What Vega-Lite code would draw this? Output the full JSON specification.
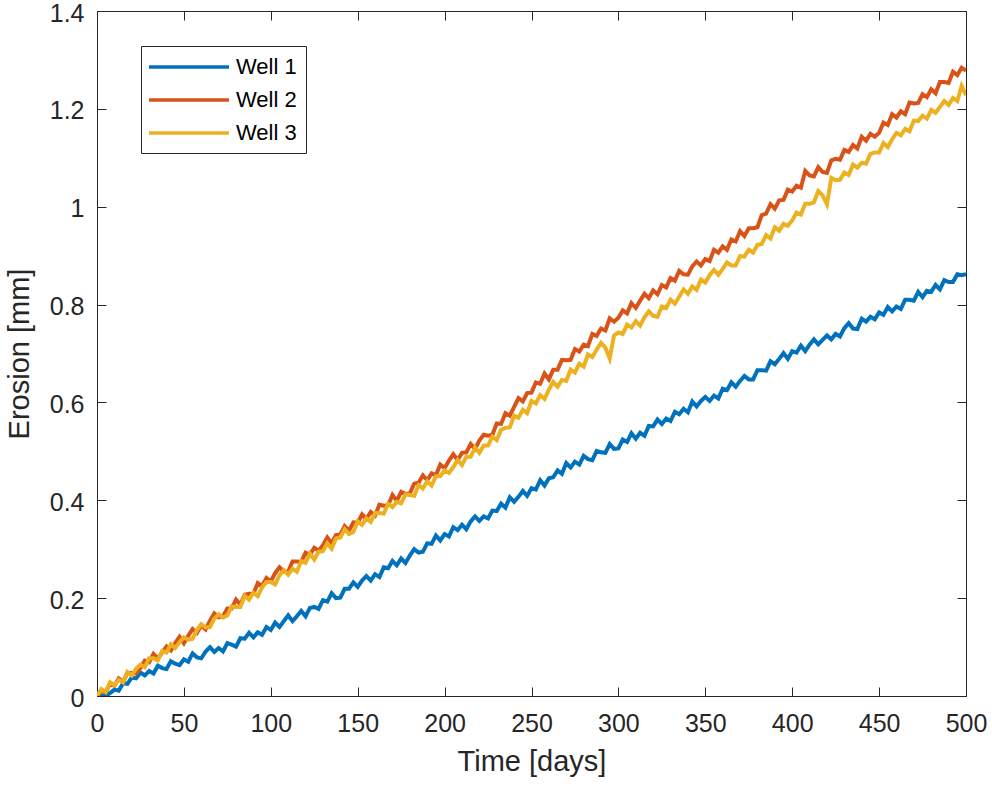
{
  "$schema": "https://vega.github.io/schema/vega-lite/v6.json",
  "width": 869,
  "height": 685,
  "autosize": {"type": "none"},
  "padding": {"left": 97, "top": 11, "right": 26, "bottom": 90},
  "background": "white",
  "data": {"values": [
{"t":0,"Well 1":0,"Well 2":0,"Well 3":0},
{"t":2.5,"Well 1":0,"Well 2":0.010,"Well 3":0.014},
{"t":5,"Well 1":0,"Well 2":0.007,"Well 3":0.008},
{"t":7.5,"Well 1":0.006,"Well 2":0.026,"Well 3":0.028},
{"t":10,"Well 1":0.013,"Well 2":0.021,"Well 3":0.022},
{"t":12.5,"Well 1":0.011,"Well 2":0.036,"Well 3":0.033},
{"t":15,"Well 1":0.026,"Well 2":0.029,"Well 3":0.028},
{"t":17.5,"Well 1":0.025,"Well 2":0.047,"Well 3":0.049},
{"t":20,"Well 1":0.038,"Well 2":0.047,"Well 3":0.042},
{"t":22.5,"Well 1":0.036,"Well 2":0.046,"Well 3":0.056},
{"t":25,"Well 1":0.048,"Well 2":0.057,"Well 3":0.064},
{"t":27.5,"Well 1":0.042,"Well 2":0.072,"Well 3":0.059},
{"t":30,"Well 1":0.051,"Well 2":0.069,"Well 3":0.077},
{"t":32.5,"Well 1":0.046,"Well 2":0.086,"Well 3":0.077},
{"t":35,"Well 1":0.062,"Well 2":0.077,"Well 3":0.073},
{"t":37.5,"Well 1":0.057,"Well 2":0.089,"Well 3":0.092},
{"t":40,"Well 1":0.055,"Well 2":0.101,"Well 3":0.089},
{"t":42.5,"Well 1":0.071,"Well 2":0.093,"Well 3":0.106},
{"t":45,"Well 1":0.066,"Well 2":0.108,"Well 3":0.098},
{"t":47.5,"Well 1":0.063,"Well 2":0.121,"Well 3":0.110},
{"t":50,"Well 1":0.075,"Well 2":0.108,"Well 3":0.120},
{"t":52.5,"Well 1":0.070,"Well 2":0.123,"Well 3":0.115},
{"t":55,"Well 1":0.087,"Well 2":0.137,"Well 3":0.117},
{"t":57.5,"Well 1":0.079,"Well 2":0.129,"Well 3":0.135},
{"t":60,"Well 1":0.077,"Well 2":0.144,"Well 3":0.147},
{"t":62.5,"Well 1":0.091,"Well 2":0.136,"Well 3":0.140},
{"t":65,"Well 1":0.100,"Well 2":0.154,"Well 3":0.141},
{"t":67.5,"Well 1":0.090,"Well 2":0.169,"Well 3":0.158},
{"t":70,"Well 1":0.098,"Well 2":0.161,"Well 3":0.167},
{"t":72.5,"Well 1":0.091,"Well 2":0.163,"Well 3":0.160},
{"t":75,"Well 1":0.108,"Well 2":0.179,"Well 3":0.165},
{"t":77.5,"Well 1":0.105,"Well 2":0.179,"Well 3":0.183},
{"t":80,"Well 1":0.101,"Well 2":0.197,"Well 3":0.182},
{"t":82.5,"Well 1":0.118,"Well 2":0.187,"Well 3":0.182},
{"t":85,"Well 1":0.117,"Well 2":0.207,"Well 3":0.205},
{"t":87.5,"Well 1":0.129,"Well 2":0.209,"Well 3":0.197},
{"t":90,"Well 1":0.120,"Well 2":0.209,"Well 3":0.211},
{"t":92.5,"Well 1":0.130,"Well 2":0.231,"Well 3":0.204},
{"t":95,"Well 1":0.125,"Well 2":0.225,"Well 3":0.222},
{"t":97.5,"Well 1":0.141,"Well 2":0.241,"Well 3":0.233},
{"t":100,"Well 1":0.135,"Well 2":0.234,"Well 3":0.233},
{"t":102.5,"Well 1":0.150,"Well 2":0.251,"Well 3":0.228},
{"t":105,"Well 1":0.141,"Well 2":0.263,"Well 3":0.247},
{"t":107.5,"Well 1":0.153,"Well 2":0.254,"Well 3":0.257},
{"t":110,"Well 1":0.165,"Well 2":0.254,"Well 3":0.248},
{"t":112.5,"Well 1":0.153,"Well 2":0.275,"Well 3":0.260},
{"t":115,"Well 1":0.163,"Well 2":0.275,"Well 3":0.254},
{"t":117.5,"Well 1":0.174,"Well 2":0.274,"Well 3":0.276},
{"t":120,"Well 1":0.163,"Well 2":0.293,"Well 3":0.272},
{"t":122.5,"Well 1":0.180,"Well 2":0.289,"Well 3":0.291},
{"t":125,"Well 1":0.182,"Well 2":0.303,"Well 3":0.279},
{"t":127.5,"Well 1":0.178,"Well 2":0.297,"Well 3":0.295},
{"t":130,"Well 1":0.196,"Well 2":0.308,"Well 3":0.296},
{"t":132.5,"Well 1":0.193,"Well 2":0.324,"Well 3":0.312},
{"t":135,"Well 1":0.210,"Well 2":0.312,"Well 3":0.301},
{"t":137.5,"Well 1":0.200,"Well 2":0.329,"Well 3":0.322},
{"t":140,"Well 1":0.201,"Well 2":0.330,"Well 3":0.324},
{"t":142.5,"Well 1":0.219,"Well 2":0.347,"Well 3":0.341},
{"t":145,"Well 1":0.219,"Well 2":0.338,"Well 3":0.331},
{"t":147.5,"Well 1":0.232,"Well 2":0.355,"Well 3":0.335},
{"t":150,"Well 1":0.223,"Well 2":0.354,"Well 3":0.357},
{"t":152.5,"Well 1":0.236,"Well 2":0.371,"Well 3":0.350},
{"t":155,"Well 1":0.245,"Well 2":0.362,"Well 3":0.363},
{"t":157.5,"Well 1":0.236,"Well 2":0.376,"Well 3":0.356},
{"t":160,"Well 1":0.249,"Well 2":0.369,"Well 3":0.374},
{"t":162.5,"Well 1":0.243,"Well 2":0.391,"Well 3":0.374},
{"t":165,"Well 1":0.263,"Well 2":0.389,"Well 3":0.373},
{"t":167.5,"Well 1":0.261,"Well 2":0.390,"Well 3":0.393},
{"t":170,"Well 1":0.276,"Well 2":0.411,"Well 3":0.386},
{"t":172.5,"Well 1":0.267,"Well 2":0.399,"Well 3":0.397},
{"t":175,"Well 1":0.281,"Well 2":0.417,"Well 3":0.394},
{"t":177.5,"Well 1":0.272,"Well 2":0.413,"Well 3":0.412},
{"t":180,"Well 1":0.287,"Well 2":0.414,"Well 3":0.411},
{"t":182.5,"Well 1":0.300,"Well 2":0.434,"Well 3":0.409},
{"t":185,"Well 1":0.293,"Well 2":0.436,"Well 3":0.431},
{"t":187.5,"Well 1":0.295,"Well 2":0.451,"Well 3":0.424},
{"t":190,"Well 1":0.312,"Well 2":0.441,"Well 3":0.439},
{"t":192.5,"Well 1":0.311,"Well 2":0.455,"Well 3":0.430},
{"t":195,"Well 1":0.328,"Well 2":0.451,"Well 3":0.449},
{"t":197.5,"Well 1":0.318,"Well 2":0.473,"Well 3":0.449},
{"t":200,"Well 1":0.331,"Well 2":0.466,"Well 3":0.461},
{"t":202.5,"Well 1":0.326,"Well 2":0.481,"Well 3":0.456},
{"t":205,"Well 1":0.345,"Well 2":0.494,"Well 3":0.468},
{"t":207.5,"Well 1":0.339,"Well 2":0.482,"Well 3":0.482},
{"t":210,"Well 1":0.350,"Well 2":0.497,"Well 3":0.472},
{"t":212.5,"Well 1":0.341,"Well 2":0.498,"Well 3":0.489},
{"t":215,"Well 1":0.357,"Well 2":0.515,"Well 3":0.489},
{"t":217.5,"Well 1":0.367,"Well 2":0.505,"Well 3":0.508},
{"t":220,"Well 1":0.358,"Well 2":0.522,"Well 3":0.497},
{"t":222.5,"Well 1":0.367,"Well 2":0.534,"Well 3":0.512},
{"t":225,"Well 1":0.363,"Well 2":0.532,"Well 3":0.512},
{"t":227.5,"Well 1":0.379,"Well 2":0.534,"Well 3":0.530},
{"t":230,"Well 1":0.378,"Well 2":0.557,"Well 3":0.523},
{"t":232.5,"Well 1":0.393,"Well 2":0.556,"Well 3":0.544},
{"t":235,"Well 1":0.385,"Well 2":0.578,"Well 3":0.548},
{"t":237.5,"Well 1":0.406,"Well 2":0.573,"Well 3":0.549},
{"t":240,"Well 1":0.397,"Well 2":0.591,"Well 3":0.573},
{"t":242.5,"Well 1":0.407,"Well 2":0.609,"Well 3":0.569},
{"t":245,"Well 1":0.419,"Well 2":0.602,"Well 3":0.585},
{"t":247.5,"Well 1":0.409,"Well 2":0.619,"Well 3":0.578},
{"t":250,"Well 1":0.425,"Well 2":0.620,"Well 3":0.603},
{"t":252.5,"Well 1":0.422,"Well 2":0.641,"Well 3":0.598},
{"t":255,"Well 1":0.441,"Well 2":0.638,"Well 3":0.615},
{"t":257.5,"Well 1":0.430,"Well 2":0.659,"Well 3":0.607},
{"t":260,"Well 1":0.445,"Well 2":0.647,"Well 3":0.626},
{"t":262.5,"Well 1":0.447,"Well 2":0.667,"Well 3":0.642},
{"t":265,"Well 1":0.461,"Well 2":0.667,"Well 3":0.632},
{"t":267.5,"Well 1":0.454,"Well 2":0.687,"Well 3":0.646},
{"t":270,"Well 1":0.476,"Well 2":0.686,"Well 3":0.644},
{"t":272.5,"Well 1":0.467,"Well 2":0.687,"Well 3":0.667},
{"t":275,"Well 1":0.479,"Well 2":0.709,"Well 3":0.661},
{"t":277.5,"Well 1":0.473,"Well 2":0.704,"Well 3":0.679},
{"t":280,"Well 1":0.491,"Well 2":0.718,"Well 3":0.673},
{"t":282.5,"Well 1":0.484,"Well 2":0.715,"Well 3":0.698},
{"t":285,"Well 1":0.482,"Well 2":0.740,"Well 3":0.693},
{"t":287.5,"Well 1":0.501,"Well 2":0.736,"Well 3":0.708},
{"t":290,"Well 1":0.498,"Well 2":0.751,"Well 3":0.722},
{"t":292.5,"Well 1":0.497,"Well 2":0.747,"Well 3":0.712},
{"t":295,"Well 1":0.515,"Well 2":0.772,"Well 3":0.690},
{"t":297.5,"Well 1":0.505,"Well 2":0.765,"Well 3":0.737},
{"t":300,"Well 1":0.506,"Well 2":0.773,"Well 3":0.743},
{"t":302.5,"Well 1":0.524,"Well 2":0.788,"Well 3":0.740},
{"t":305,"Well 1":0.519,"Well 2":0.782,"Well 3":0.759},
{"t":307.5,"Well 1":0.537,"Well 2":0.803,"Well 3":0.753},
{"t":310,"Well 1":0.526,"Well 2":0.793,"Well 3":0.766},
{"t":312.5,"Well 1":0.538,"Well 2":0.808,"Well 3":0.757},
{"t":315,"Well 1":0.532,"Well 2":0.822,"Well 3":0.774},
{"t":317.5,"Well 1":0.552,"Well 2":0.813,"Well 3":0.786},
{"t":320,"Well 1":0.551,"Well 2":0.829,"Well 3":0.777},
{"t":322.5,"Well 1":0.565,"Well 2":0.821,"Well 3":0.775},
{"t":325,"Well 1":0.556,"Well 2":0.840,"Well 3":0.796},
{"t":327.5,"Well 1":0.567,"Well 2":0.835,"Well 3":0.793},
{"t":330,"Well 1":0.562,"Well 2":0.854,"Well 3":0.810},
{"t":332.5,"Well 1":0.581,"Well 2":0.849,"Well 3":0.802},
{"t":335,"Well 1":0.576,"Well 2":0.869,"Well 3":0.816},
{"t":337.5,"Well 1":0.587,"Well 2":0.862,"Well 3":0.831},
{"t":340,"Well 1":0.580,"Well 2":0.861,"Well 3":0.822},
{"t":342.5,"Well 1":0.602,"Well 2":0.878,"Well 3":0.837},
{"t":345,"Well 1":0.592,"Well 2":0.888,"Well 3":0.830},
{"t":347.5,"Well 1":0.603,"Well 2":0.880,"Well 3":0.851},
{"t":350,"Well 1":0.611,"Well 2":0.893,"Well 3":0.845},
{"t":352.5,"Well 1":0.603,"Well 2":0.889,"Well 3":0.860},
{"t":355,"Well 1":0.614,"Well 2":0.912,"Well 3":0.871},
{"t":357.5,"Well 1":0.608,"Well 2":0.906,"Well 3":0.861},
{"t":360,"Well 1":0.628,"Well 2":0.919,"Well 3":0.873},
{"t":362.5,"Well 1":0.625,"Well 2":0.912,"Well 3":0.886},
{"t":365,"Well 1":0.641,"Well 2":0.933,"Well 3":0.880},
{"t":367.5,"Well 1":0.632,"Well 2":0.929,"Well 3":0.880},
{"t":370,"Well 1":0.644,"Well 2":0.950,"Well 3":0.899},
{"t":372.5,"Well 1":0.654,"Well 2":0.940,"Well 3":0.898},
{"t":375,"Well 1":0.647,"Well 2":0.956,"Well 3":0.912},
{"t":377.5,"Well 1":0.647,"Well 2":0.956,"Well 3":0.906},
{"t":380,"Well 1":0.666,"Well 2":0.958,"Well 3":0.922},
{"t":382.5,"Well 1":0.666,"Well 2":0.983,"Well 3":0.924},
{"t":385,"Well 1":0.665,"Well 2":0.986,"Well 3":0.942},
{"t":387.5,"Well 1":0.684,"Well 2":1.005,"Well 3":0.935},
{"t":390,"Well 1":0.678,"Well 2":0.996,"Well 3":0.958},
{"t":392.5,"Well 1":0.689,"Well 2":1.013,"Well 3":0.951},
{"t":395,"Well 1":0.701,"Well 2":1.014,"Well 3":0.965},
{"t":397.5,"Well 1":0.689,"Well 2":1.035,"Well 3":0.961},
{"t":400,"Well 1":0.705,"Well 2":1.031,"Well 3":0.972},
{"t":402.5,"Well 1":0.702,"Well 2":1.043,"Well 3":0.988},
{"t":405,"Well 1":0.716,"Well 2":1.039,"Well 3":0.984},
{"t":407.5,"Well 1":0.705,"Well 2":1.073,"Well 3":1.006},
{"t":410,"Well 1":0.718,"Well 2":1.064,"Well 3":1.006},
{"t":412.5,"Well 1":0.729,"Well 2":1.062,"Well 3":1.009},
{"t":415,"Well 1":0.719,"Well 2":1.081,"Well 3":1.032},
{"t":417.5,"Well 1":0.728,"Well 2":1.071,"Well 3":1.023},
{"t":420,"Well 1":0.737,"Well 2":1.069,"Well 3":1.005},
{"t":422.5,"Well 1":0.729,"Well 2":1.095,"Well 3":1.059},
{"t":425,"Well 1":0.740,"Well 2":1.098,"Well 3":1.054},
{"t":427.5,"Well 1":0.735,"Well 2":1.096,"Well 3":1.055},
{"t":430,"Well 1":0.752,"Well 2":1.116,"Well 3":1.070},
{"t":432.5,"Well 1":0.762,"Well 2":1.112,"Well 3":1.065},
{"t":435,"Well 1":0.751,"Well 2":1.126,"Well 3":1.086},
{"t":437.5,"Well 1":0.750,"Well 2":1.119,"Well 3":1.080},
{"t":440,"Well 1":0.771,"Well 2":1.143,"Well 3":1.090},
{"t":442.5,"Well 1":0.765,"Well 2":1.135,"Well 3":1.088},
{"t":445,"Well 1":0.775,"Well 2":1.149,"Well 3":1.108},
{"t":447.5,"Well 1":0.770,"Well 2":1.143,"Well 3":1.111},
{"t":450,"Well 1":0.784,"Well 2":1.151,"Well 3":1.111},
{"t":452.5,"Well 1":0.779,"Well 2":1.172,"Well 3":1.130},
{"t":455,"Well 1":0.795,"Well 2":1.167,"Well 3":1.122},
{"t":457.5,"Well 1":0.786,"Well 2":1.189,"Well 3":1.138},
{"t":460,"Well 1":0.796,"Well 2":1.182,"Well 3":1.151},
{"t":462.5,"Well 1":0.791,"Well 2":1.195,"Well 3":1.146},
{"t":465,"Well 1":0.810,"Well 2":1.189,"Well 3":1.159},
{"t":467.5,"Well 1":0.810,"Well 2":1.213,"Well 3":1.154},
{"t":470,"Well 1":0.808,"Well 2":1.211,"Well 3":1.176},
{"t":472.5,"Well 1":0.826,"Well 2":1.212,"Well 3":1.175},
{"t":475,"Well 1":0.815,"Well 2":1.230,"Well 3":1.186},
{"t":477.5,"Well 1":0.828,"Well 2":1.224,"Well 3":1.180},
{"t":480,"Well 1":0.826,"Well 2":1.240,"Well 3":1.198},
{"t":482.5,"Well 1":0.840,"Well 2":1.232,"Well 3":1.192},
{"t":485,"Well 1":0.831,"Well 2":1.255,"Well 3":1.204},
{"t":487.5,"Well 1":0.850,"Well 2":1.255,"Well 3":1.216},
{"t":490,"Well 1":0.846,"Well 2":1.253,"Well 3":1.208},
{"t":492.5,"Well 1":0.846,"Well 2":1.276,"Well 3":1.222},
{"t":495,"Well 1":0.862,"Well 2":1.269,"Well 3":1.216},
{"t":497.5,"Well 1":0.860,"Well 2":1.284,"Well 3":1.247},
{"t":500,"Well 1":0.862,"Well 2":1.278,"Well 3":1.228}
  ]},
  "transform": [{"fold": ["Well 1", "Well 2", "Well 3"], "as": ["well", "e"]}],
  "layer": [
    {
      "mark": {"type": "line", "strokeWidth": 4, "clip": true},
      "encoding": {
        "x": {"field": "t", "type": "quantitative", "scale": {"domain": [0, 500], "nice": false},
              "axis": {"orient": "bottom", "title": "Time [days]", "values": [0,50,100,150,200,250,300,350,400,450,500]}},
        "y": {"field": "e", "type": "quantitative", "scale": {"domain": [0, 1.4], "nice": false},
              "axis": {"orient": "left", "title": "Erosion [mm]", "format": "~g", "values": [0,0.2,0.4,0.6,0.8,1,1.2,1.4]}},
        "color": {"field": "well", "type": "nominal",
                  "scale": {"domain": ["Well 1", "Well 2", "Well 3"], "range": ["#0072BD", "#D95319", "#EDB120"]},
                  "legend": {"orient": "none", "legendX": 44, "legendY": 35, "title": null,
                             "symbolType": "M-4,0H4", "symbolSize": 400, "symbolStrokeWidth": 3.5, "symbolOffset": 27,
                             "labelFontSize": 22, "labelFont": "Liberation Sans", "labelColor": "#000000",
                             "padding": 9, "strokeColor": "#262626", "fillColor": "white",
                             "rowPadding": 10, "labelOffset": 35, "labelLimit": 0}}
      }
    },
    {
      "mark": {"type": "line", "opacity": 0},
      "encoding": {
        "x": {"field": "t", "type": "quantitative",
              "axis": {"orient": "top", "title": null, "labels": false, "values": [0,50,100,150,200,250,300,350,400,450,500]}},
        "y": {"field": "e", "type": "quantitative",
              "axis": {"orient": "right", "title": null, "labels": false, "values": [0,0.2,0.4,0.6,0.8,1,1.2,1.4]}}
      }
    }
  ],
  "resolve": {"axis": {"x": "independent", "y": "independent"}},
  "config": {
    "view": {"stroke": "#262626", "strokeWidth": 1},
    "axis": {
      "domain": false, "grid": false, "labelFlush": false, "labelOverlap": false,
      "tickSize": -9, "tickColor": "#262626", "tickWidth": 1,
      "labelFont": "Liberation Sans", "labelFontSize": 25, "labelColor": "#262626",
      "titleFont": "Liberation Sans", "titleFontSize": 29, "titleFontWeight": "normal", "titleColor": "#262626"
    },
    "axisBottom": {"labelPadding": 24, "titlePadding": 11},
    "axisLeft": {"labelPadding": 22, "titlePadding": 15, "labelOffset": 2}
  }
}
